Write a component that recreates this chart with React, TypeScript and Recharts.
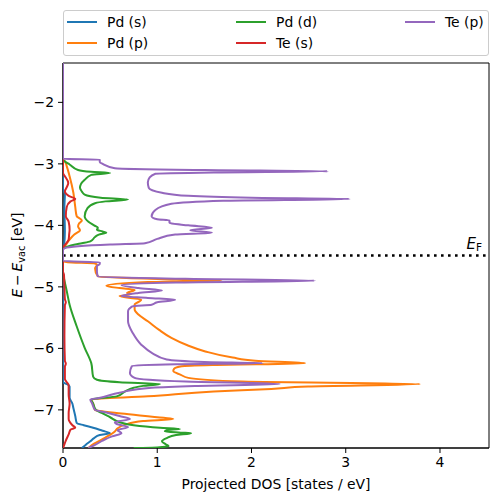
import { ScatterChart, Scatter, XAxis, YAxis, ReferenceLine, ReferenceArea, Legend, Label } from "recharts";

const FONT = "'DejaVu Sans', sans-serif";

// axis setup
const xTicks = [0, 1, 2, 3, 4];
const yTicks = [-7, -6, -5, -4, -3, -2];
const X_MAX = 4.52;
const Y_MIN = -7.62;
const Y_MAX = -1.36;
const E_FERMI = -4.49;

// [energy (eV), projected DOS]
const pdS: [number, number][] = [
  [-1.36, 0], [-3.4, 0], [-3.5, 0.02], [-3.7, 0.015], [-4.1, 0.02], [-4.35, 0.01], [-4.4, 0],
  [-4.6, 0], [-6.55, 0], [-6.58, 0.04], [-6.62, 0.07], [-6.8, 0.07], [-6.9, 0.1], [-6.97, 0.11],
  [-7.1, 0.13], [-7.21, 0.145], [-7.25, 0.22], [-7.29, 0.32], [-7.34, 0.42], [-7.38, 0.5],
  [-7.41, 0.39], [-7.46, 0.33], [-7.51, 0.29], [-7.57, 0.24], [-7.62, 0.2],
];

const pdP: [number, number][] = [
  [-1.36, 0], [-2.93, 0], [-2.96, 0.02], [-3.04, 0.04], [-3.2, 0.07], [-3.47, 0.11], [-3.7, 0.13],
  [-3.85, 0.145], [-3.92, 0.2], [-3.97, 0.17], [-4.02, 0.16], [-4.08, 0.18], [-4.15, 0.12],
  [-4.23, 0.07], [-4.34, 0.02], [-4.38, 0],
  [-4.58, 0], [-4.6, 0.05], [-4.62, 0.34], [-4.64, 0.36], [-4.7, 0.34], [-4.83, 0.37], [-4.88, 1.2],
  [-4.9, 1.68], [-4.92, 0.9], [-4.98, 0.46], [-5.02, 0.6], [-5.05, 0.76], [-5.1, 0.68], [-5.12, 0.72],
  [-5.15, 0.6], [-5.21, 0.83], [-5.29, 0.76], [-5.37, 0.76], [-5.45, 0.8], [-5.56, 0.9], [-5.7, 1.02],
  [-5.83, 1.15], [-5.95, 1.32], [-6.05, 1.51], [-6.15, 1.8], [-6.2, 2.04], [-6.24, 2.57], [-6.27, 1.6],
  [-6.29, 1.26], [-6.33, 1.18], [-6.37, 1.17], [-6.43, 1.25], [-6.48, 1.33], [-6.54, 1.9], [-6.58, 3.79],
  [-6.62, 2.6], [-6.66, 2.21], [-6.7, 1.6], [-6.78, 0.9], [-6.83, 0.3], [-6.9, 0.32], [-7.0, 0.34],
  [-7.02, 0.39], [-7.06, 0.62], [-7.13, 1.07], [-7.15, 1.17], [-7.18, 0.85], [-7.24, 0.66],
  [-7.3, 0.58], [-7.35, 0.55], [-7.45, 0.45], [-7.55, 0.33], [-7.62, 0.27],
];

const pdD: [number, number][] = [
  [-1.36, 0], [-2.93, 0], [-2.96, 0.02], [-3.01, 0.07], [-3.1, 0.16], [-3.13, 0.3], [-3.15, 0.5],
  [-3.18, 0.3], [-3.26, 0.23], [-3.33, 0.19], [-3.39, 0.18], [-3.45, 0.2], [-3.5, 0.23], [-3.55, 0.4],
  [-3.58, 0.69], [-3.61, 0.45], [-3.64, 0.34], [-3.72, 0.26], [-3.85, 0.23], [-3.94, 0.27],
  [-4.0, 0.33], [-4.04, 0.37], [-4.07, 0.36], [-4.1, 0.42], [-4.12, 0.46], [-4.15, 0.38],
  [-4.19, 0.34], [-4.26, 0.29], [-4.29, 0.2], [-4.31, 0.13], [-4.35, 0.04], [-4.38, 0],
  [-4.78, 0], [-4.86, 0.01], [-5.07, 0.04], [-5.29, 0.07], [-5.64, 0.145], [-5.99, 0.23],
  [-6.24, 0.3], [-6.46, 0.32], [-6.51, 0.36], [-6.55, 0.6], [-6.58, 1.03], [-6.61, 0.85],
  [-6.64, 0.75], [-6.7, 0.66], [-6.78, 0.57], [-6.83, 0.3], [-6.9, 0.32], [-7.0, 0.35],
  [-7.05, 0.41], [-7.12, 0.5], [-7.2, 0.6], [-7.25, 0.75], [-7.29, 1.03], [-7.31, 1.24],
  [-7.33, 1.1], [-7.35, 1.08], [-7.37, 1.25], [-7.38, 1.36], [-7.41, 1.2], [-7.46, 1.1],
  [-7.51, 1.05], [-7.56, 1.09], [-7.59, 1.12], [-7.61, 1.0], [-7.62, 0.75],
];

const teS: [number, number][] = [
  [-1.36, 0], [-3.15, 0], [-3.2, 0.02], [-3.31, 0.056], [-3.38, 0.04], [-3.45, 0.02], [-3.52, 0.06],
  [-3.57, 0.13], [-3.61, 0.08], [-3.7, 0.04], [-3.85, 0.03], [-3.94, 0.06], [-4.07, 0.07],
  [-4.15, 0.065], [-4.23, 0.06], [-4.3, 0.03], [-4.37, 0],
  [-4.75, 0], [-4.8, 0.01], [-5.0, 0.015], [-5.2, 0.02], [-5.25, 0.03], [-5.3, 0.02], [-5.8, 0.015],
  [-6.2, 0.02], [-6.25, 0.03], [-6.3, 0.02], [-6.5, 0.02], [-6.55, 0.04], [-6.6, 0.06],
  [-6.75, 0.06], [-6.9, 0.07], [-7.05, 0.06], [-7.15, 0.06], [-7.25, 0.1], [-7.29, 0.13],
  [-7.32, 0.08], [-7.4, 0.06], [-7.5, 0.03], [-7.58, 0.01], [-7.62, 0],
];

const teP: [number, number][] = [
  [-1.36, 0], [-2.92, 0], [-2.93, 0.39], [-2.97, 0.39], [-3.0, 0.42], [-3.07, 0.55], [-3.1, 1.5],
  [-3.12, 2.81], [-3.14, 1.6], [-3.16, 0.98], [-3.22, 0.92], [-3.3, 0.9], [-3.39, 0.91],
  [-3.47, 1.05], [-3.52, 1.33], [-3.55, 2.0], [-3.57, 3.04], [-3.6, 1.7], [-3.65, 1.15],
  [-3.75, 0.98], [-3.85, 0.94], [-3.9, 1.0], [-3.92, 1.13], [-3.96, 1.13], [-4.0, 1.33],
  [-4.04, 1.58], [-4.08, 1.35], [-4.12, 1.58], [-4.15, 1.19], [-4.22, 1.0], [-4.29, 0.87],
  [-4.31, 0.5], [-4.37, 0.02], [-4.4, 0],
  [-4.58, 0], [-4.6, 0.39], [-4.63, 0.39], [-4.66, 0.36], [-4.75, 0.36], [-4.83, 0.37],
  [-4.87, 1.3], [-4.9, 2.67], [-4.93, 1.2], [-4.97, 0.62], [-5.02, 0.8], [-5.06, 1.05],
  [-5.1, 0.8], [-5.15, 0.62], [-5.18, 0.9], [-5.21, 1.19], [-5.25, 1.0], [-5.29, 0.94],
  [-5.32, 0.73], [-5.4, 0.69], [-5.56, 0.69], [-5.75, 0.74], [-5.94, 0.83], [-6.08, 0.95],
  [-6.18, 1.1], [-6.22, 1.5], [-6.24, 2.12], [-6.26, 1.2], [-6.29, 0.73], [-6.4, 0.71],
  [-6.48, 0.76], [-6.54, 1.3], [-6.58, 2.3], [-6.61, 1.4], [-6.64, 0.94], [-6.72, 0.6],
  [-6.81, 0.37], [-6.83, 0.29], [-6.9, 0.31], [-7.0, 0.34], [-7.04, 0.45], [-7.1, 0.6],
  [-7.15, 0.71], [-7.2, 0.55], [-7.23, 0.57], [-7.28, 0.69], [-7.33, 0.58], [-7.38, 0.62],
  [-7.43, 0.52], [-7.5, 0.42], [-7.57, 0.34], [-7.62, 0.27],
];

const series = [
  { name: "Pd (s)", color: "#1f77b4", pts: pdS },
  { name: "Pd (p)", color: "#ff7f0e", pts: pdP },
  { name: "Pd (d)", color: "#2ca02c", pts: pdD },
  { name: "Te (s)", color: "#d62728", pts: teS },
  { name: "Te (p)", color: "#9467bd", pts: teP },
];

const minus = (v: number) => (v < 0 ? `\u2212${Math.abs(v)}` : `${v}`);

const noDot = () => <g />;

const renderLegend = () => (
  <div
    style={{
      position: "relative", width: 426, height: 46, boxSizing: "border-box",
      border: "1px solid #cccccc", borderRadius: 3, background: "rgba(255,255,255,0.8)",
      fontFamily: FONT, fontSize: 13.9, color: "#000",
    }}
  >
    {series.map((s, i) => {
      const col = Math.floor(i / 2);
      const row = i % 2;
      return (
        <div key={s.name} style={{ position: "absolute", left: 3 + col * 169, top: row === 0 ? 1 : 22, height: 20, display: "flex", alignItems: "center", whiteSpace: "nowrap" }}>
          <span style={{ display: "inline-block", width: 30, height: 2, background: s.color, marginRight: 10 }} />
          <span>{s.name}</span>
        </div>
      );
    })}
  </div>
);

const efLabel = () => (
  <text x={482} y={249} textAnchor="end" fontFamily={FONT} fontSize={15} fill="#000">
    <tspan fontStyle="italic">E</tspan>
    <tspan dy={1.5} fontSize={10.5}>F</tspan>
  </text>
);

const yLabel = () => (
  <text transform="translate(22, 255) rotate(-90)" textAnchor="middle" fontFamily={FONT} fontSize={13.9} fill="#000">
    <tspan fontStyle="italic">E</tspan>
    <tspan>{"\u2009\u2212\u2009"}</tspan>
    <tspan fontStyle="italic">E</tspan>
    <tspan dy={2.5} fontSize={9.7}>vac</tspan>
    <tspan dy={-2.5}> [eV]</tspan>
  </text>
);

const xLabel = () => (
  <text x={276} y={489} textAnchor="middle" fontFamily={FONT} fontSize={13.9} fill="#000">
    Projected DOS [states / eV]
  </text>
);

export default function App() {
  return (
    <div style={{ position: "absolute", left: 0, top: 0, width: 498, height: 502, background: "#fff" }}>
      <ScatterChart width={498} height={502} margin={{ top: 63, right: 9, bottom: 0, left: 0 }}>
        <XAxis
          type="number" dataKey="x" domain={[0, X_MAX]} ticks={xTicks} allowDataOverflow
          height={54} tickSize={5} tickMargin={4} stroke="#000"
          tick={{ fill: "#000", fontSize: 13.9, fontFamily: FONT }}
        >
          <Label content={xLabel} />
        </XAxis>
        <YAxis
          type="number" dataKey="y" domain={[Y_MIN, Y_MAX]} ticks={yTicks} allowDataOverflow
          width={63} tickSize={5} tickMargin={4} stroke="#000" tickFormatter={minus}
          tick={{ fill: "#000", fontSize: 13.9, fontFamily: FONT }}
        >
          <Label content={yLabel} />
        </YAxis>
        <ReferenceArea x1={0} x2={X_MAX} y1={Y_MIN} y2={Y_MAX} fill="none" stroke="#000" strokeWidth={1} />
        {series.map((s) => (
          <Scatter
            key={s.name}
            name={s.name}
            data={s.pts.map(([e, d]) => ({ x: d, y: e }))}
            fill={s.color}
            line={{ stroke: s.color, strokeWidth: 2 }}
            lineJointType="monotoneY"
            shape={noDot}
            isAnimationActive={false}
          />
        ))}
        <ReferenceLine y={E_FERMI} stroke="#000" strokeWidth={2.6} strokeDasharray="2.6 4.4" label={efLabel} />
        <Legend
          layout="horizontal" verticalAlign="middle" align="center"
          wrapperStyle={{ top: 10, left: 63, width: 426, height: 46 }}
          content={renderLegend}
        />
      </ScatterChart>
    </div>
  );
}
